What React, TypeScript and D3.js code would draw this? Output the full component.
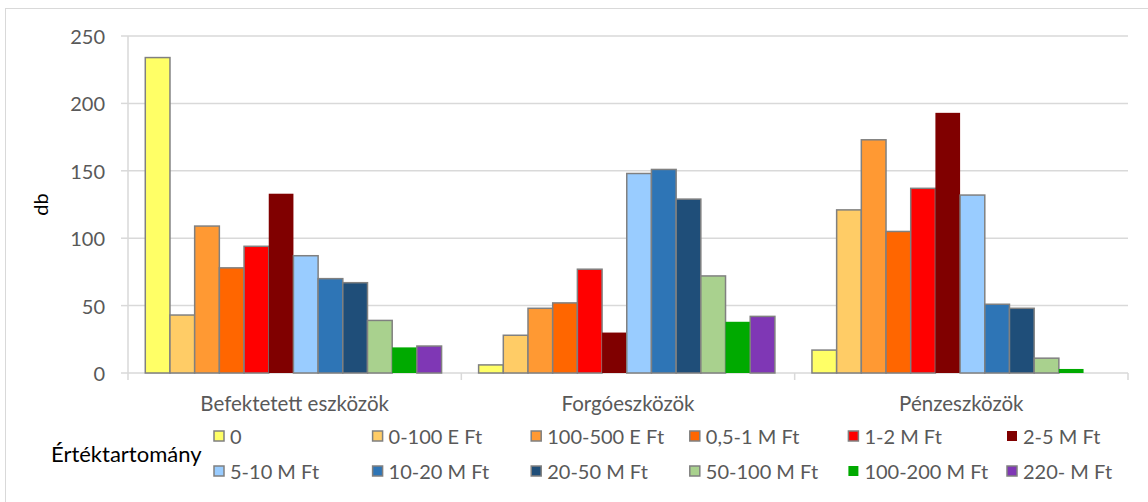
import React from "react";
import * as d3 from "d3";

const categories = ["Befektetett eszközök", "Forgóeszközök", "Pénzeszközök"];
const seriesNames = [
  "0", "0-100 E Ft", "100-500 E Ft", "0,5-1 M Ft", "1-2 M Ft", "2-5 M Ft",
  "5-10 M Ft", "10-20 M Ft", "20-50 M Ft", "50-100 M Ft", "100-200 M Ft", "220- M Ft",
];
const seriesColors = [
  "#FFFF66", "#FFCC66", "#FF9933", "#FF6600", "#FF0000", "#800000",
  "#99CCFF", "#2E75B6", "#1F4E79", "#A9D18E", "#00AA00", "#7F37B5",
];
const seriesBorder = [true, true, true, true, true, false, true, true, true, true, false, true];
// values per series: [Befektetett, Forgó, Pénz]
const values0 = [234, 6, 17];
const values1 = [43, 28, 121];
const values2 = [109, 48, 173];
const values3 = [78, 52, 105];
const values4 = [94, 77, 137];
const values5 = [133, 30, 193];
const values6 = [87, 148, 132];
const values7 = [70, 151, 51];
const values8 = [67, 129, 48];
const values9 = [39, 72, 11];
const values10 = [19, 38, 3];
const values11 = [20, 42, 0];
const seriesValues = [values0, values1, values2, values3, values4, values5, values6, values7, values8, values9, values10, values11];
const yTicks = [0, 50, 100, 150, 200, 250];
const yLabel = "db";
const legendTitle = "Értéktartomány";

const W = 1148;
const H = 502;
const FONT = "Lato, 'Open Sans', sans-serif";

export default function App() {
  const left = 128, right = 1128, top = 36, bottom = 373;
  const x0 = d3.scaleBand().domain(categories).range([left, right]).paddingInner(0).paddingOuter(0);
  const bw = x0.bandwidth();
  const barW = bw / 13.5;
  const x1 = d3.scaleBand().domain(seriesNames).range([0.7 * barW, bw - 0.8 * barW]).padding(0);
  const y = d3.scaleLinear().domain([0, 250]).range([bottom, top]);

  const legendCols = 6;
  const legendX0 = 213, legendDX = 158.6;
  const legendRows = [436, 471];

  return (
    <svg width={W} height={H} style={{ position: "absolute", left: 0, top: 0, background: "#fff" }} fontFamily={FONT}>
      <rect x={5.5} y={8.5} width={W + 10} height={H + 10} fill="#fff" stroke="#D9D9D9" strokeWidth={1} />
      {yTicks.map((t) => (
        <g key={t}>
          <line x1={left} x2={right} y1={y(t)} y2={y(t)} stroke="#D9D9D9" strokeWidth={1.5} />
          <line x1={left - 7} x2={left} y1={y(t)} y2={y(t)} stroke="#D9D9D9" strokeWidth={1.5} />
          <text x={105} y={y(t)} textAnchor="end" dominantBaseline="central" fontSize={20} fill="#595959">{t}</text>
        </g>
      ))}
      <line x1={left} x2={left} y1={top} y2={bottom + 7} stroke="#D9D9D9" strokeWidth={1.5} />
      {categories.map((c, i) => (
        <line key={"ct" + i} x1={x0(c)! + bw} x2={x0(c)! + bw} y1={bottom} y2={bottom + 7} stroke="#D9D9D9" strokeWidth={1.5} />
      ))}
      {categories.map((c, ci) => (
        <g key={c}>
          {seriesNames.map((s, si) => {
            const v = seriesValues[si][ci];
            if (!v) return null;
            const bx = x0(c)! + x1(s)!;
            return (
              <rect key={s} x={bx} y={y(v)} width={x1.bandwidth()} height={bottom - y(v)}
                fill={seriesColors[si]} stroke={seriesBorder[si] ? "#808080" : "none"} strokeWidth={1.5} />
            );
          })}
          <text x={x0(c)! + bw / 2} y={403} textAnchor="middle" dominantBaseline="central" fontSize={20.5} fill="#595959">{c}</text>
        </g>
      ))}
      <text transform={`translate(40,${(top + bottom) / 2}) rotate(-90)`} textAnchor="middle" dominantBaseline="central" fontSize={20} fill="#000">{yLabel}</text>
      <text x={51} y={453} dominantBaseline="central" fontSize={22} fill="#000">{legendTitle}</text>
      {seriesNames.map((s, i) => {
        const col = i % legendCols;
        const row = Math.floor(i / legendCols);
        const lx = legendX0 + col * legendDX;
        const ly = legendRows[row];
        return (
          <g key={"lg" + s}>
            <rect x={lx + 1} y={ly - 5} width={10} height={10} fill={seriesColors[i]}
              stroke={seriesBorder[i] ? "#808080" : "none"} strokeWidth={1.5} />
            <text x={lx + 17} y={ly} dominantBaseline="central" fontSize={20} fill="#595959">{s}</text>
          </g>
        );
      })}
    </svg>
  );
}
